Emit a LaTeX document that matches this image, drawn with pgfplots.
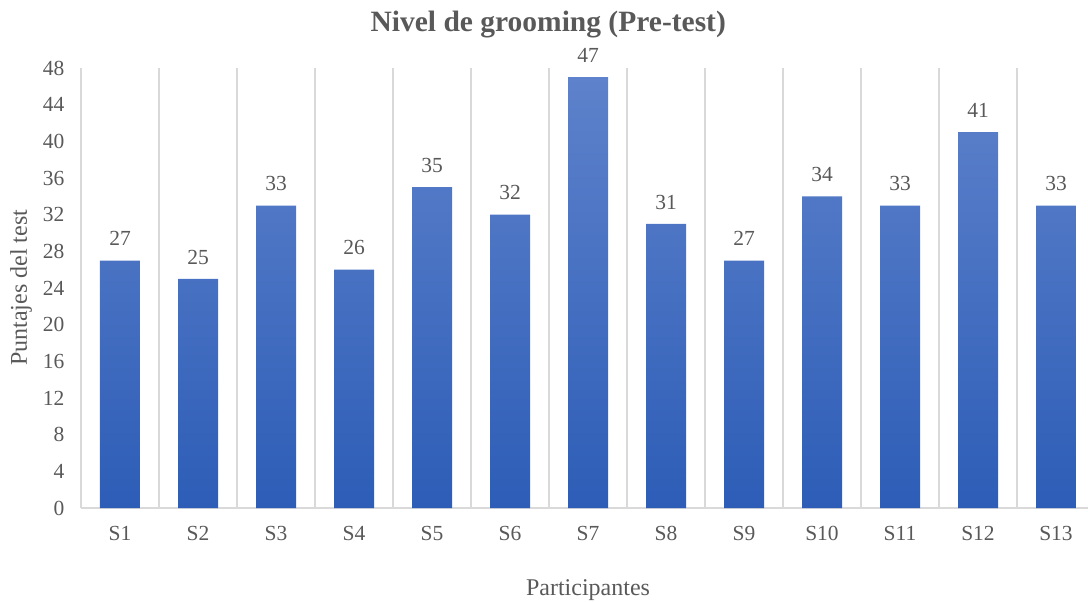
\documentclass[border=0pt]{standalone}
\usepackage{pgfplots}
\pgfplotsset{compat=1.18}
\usepackage{fontspec}
\setmainfont{Liberation Serif}
\definecolor{txt}{HTML}{595959}
\definecolor{grd}{HTML}{D9D9D9}
\definecolor{barTop}{HTML}{5E82CB}
\definecolor{barBot}{HTML}{2D5DB7}
\begin{document}
\begin{tikzpicture}
\begin{axis}[
  scale only axis,
  width=1007bp, height=440bp,
  xmin=0.5, xmax=13.41,
  ymin=0, ymax=48,
  ytick={0,4,...,48},
  xtick={1,...,13},
  xticklabels={S1,S2,S3,S4,S5,S6,S7,S8,S9,S10,S11,S12,S13},
  minor xtick={0.5,1.5,...,12.5},
  minor x grid style={draw=grd, line width=1.3bp},
  xminorgrids=true,
  major tick length=0pt, minor tick length=0pt,
  axis x line*=bottom, axis y line*=left,
  x axis line style={draw=grd, line width=1.3bp},
  y axis line style={draw=grd, line width=1.3bp},
  /pgf/number format/assume math mode=true,
  tick label style={font=\fontsize{21.5bp}{26bp}\selectfont, text=txt},
  xticklabel style={yshift=-15bp},
  yticklabel style={xshift=-13bp},
  xlabel={Participantes},
  ylabel={Puntajes del test},
  label style={font=\fontsize{24bp}{28bp}\selectfont, text=txt},
  xlabel style={at={(axis cs:7,0)}, anchor=base, yshift=-87bp},
  ylabel style={at={(rel axis cs:0,0.5)}, anchor=center, yshift=60bp},
  title={Nivel de grooming (Pre-test)},
  title style={font=\fontsize{29.5bp}{34bp}\selectfont\bfseries, text=txt,
    at={(axis cs:6.49,48)}, anchor=base, yshift=31bp},
  clip=false,
]
\coordinate (O) at (rel axis cs:0,0);
\addplot[ybar, bar width=40bp, draw=none, top color=barTop, bottom color=barBot,
  nodes near coords,
  every node near coord/.append style={font=\fontsize{21.5bp}{26bp}\selectfont, text=txt, yshift=11bp}]
  coordinates {(1,27) (2,25) (3,33) (4,26) (5,35) (6,32) (7,47) (8,31) (9,27) (10,34) (11,33) (12,41) (13,33)};
\end{axis}
\pgfresetboundingbox
\useasboundingbox (O) ++(-81bp,-95bp) rectangle ++(1088bp,603bp);
\end{tikzpicture}
\end{document}
